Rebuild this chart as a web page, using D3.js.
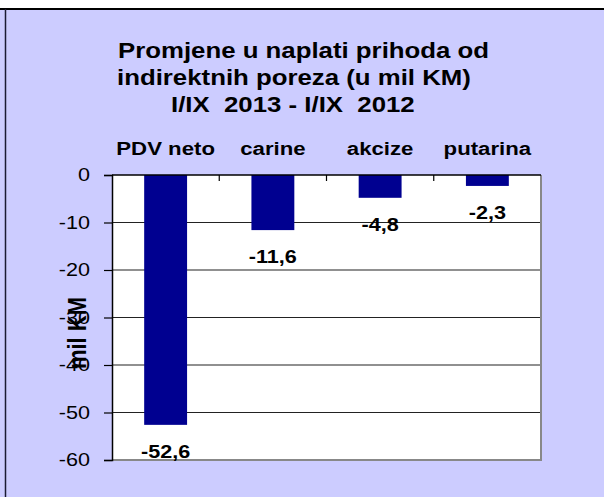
<!DOCTYPE html>
<html>
<head>
<meta charset="utf-8">
<script src="https://cdn.jsdelivr.net/npm/d3@7"></script>
<style>
  body { margin: 0; background: #fff; }
  svg { display: block; font-family: "Liberation Sans", Arial, sans-serif; }
</style>
</head>
<body>
<svg id="chart"></svg>
<script>
// Chart data
const categories = ["PDV neto", "carine", "akcize", "putarina"];
const values = [-52.6, -11.6, -4.8, -2.3];
const yTicks = [0, -10, -20, -30, -40, -50, -60];
const titleLines = ["Promjene u naplati prihoda od", "indirektnih poreza (u mil KM)", "I/IX  2013 - I/IX  2012"];
const yTitle = "mil KM";

const width = 604;
const height = 497;
const SX = 1.2; // the picture is a little stretched horizontally

const svg = d3.select("#chart")
    .attr("width", width)
    .attr("height", height);

// Frame background
svg.append("rect")
    .attr("x", 0).attr("y", 9)
    .attr("width", width).attr("height", height - 9)
    .attr("fill", "#ccccff");
svg.append("line")
    .attr("x1", 0).attr("x2", width)
    .attr("y1", 9).attr("y2", 9)
    .attr("stroke", "#000").attr("stroke-width", 2);
svg.append("line")
    .attr("x1", 5.5).attr("x2", 5.5)
    .attr("y1", 9).attr("y2", height)
    .attr("stroke", "#1a1a33").attr("stroke-width", 1.5);

// Plot area
const plot = { left: 112, right: 541, top: 175, bottom: 460 };

const x = d3.scaleBand()
    .domain(categories)
    .range([plot.left, plot.right])
    .paddingInner(0.6)
    .paddingOuter(0.3);

const y = d3.scaleLinear()
    .domain([-60, 0])
    .range([plot.bottom, plot.top]);

// helper for stretched text
function addText(g, tx, ty, str, size, weight, anchor) {
    return g.append("text")
        .attr("transform", `translate(${tx},${ty}) scale(${SX},1)`)
        .attr("text-anchor", anchor || "start")
        .attr("font-size", size)
        .attr("font-weight", weight || "normal")
        .attr("fill", "#000")
        .style("white-space", "pre")
        .text(str);
}

// Title
const titleX = [118, 117, 171];
titleLines.forEach((t, i) => {
    addText(svg, titleX[i], 58 + i * 27, t, 21.5, "bold");
});

// white plot background
svg.append("rect")
    .attr("x", plot.left).attr("y", plot.top)
    .attr("width", plot.right - plot.left)
    .attr("height", plot.bottom - plot.top)
    .attr("fill", "#fff");

// gridlines
svg.append("g")
    .selectAll("line")
    .data(yTicks.filter(d => d !== 0 && d !== -60))
    .join("line")
    .attr("x1", plot.left).attr("x2", plot.right)
    .attr("y1", d => y(d)).attr("y2", d => y(d))
    .attr("stroke", "#222").attr("stroke-width", 1.2);

// right and bottom border (gray)
svg.append("path")
    .attr("d", `M${plot.right},${plot.top}V${plot.bottom}H${plot.left}`)
    .attr("fill", "none")
    .attr("stroke", "#888")
    .attr("stroke-width", 2);

// bars
svg.append("g")
    .selectAll("rect")
    .data(values)
    .join("rect")
    .attr("x", (d, i) => x(categories[i]))
    .attr("y", y(0))
    .attr("width", x.bandwidth())
    .attr("height", d => y(d) - y(0))
    .attr("fill", "#000090");

// y axis
const yAxis = svg.append("g")
    .attr("transform", `translate(${plot.left},0)`)
    .call(d3.axisLeft(y).tickValues(yTicks).tickSize(8).tickFormat(d => String(d)));
yAxis.select(".domain").attr("stroke", "#000").attr("stroke-width", 1.5);
yAxis.selectAll(".tick line").attr("stroke", "#000").attr("stroke-width", 1.2);
yAxis.selectAll(".tick text")
    .attr("x", -22 / SX)
    .attr("transform", `scale(${SX},1)`)
    .attr("font-size", 18)
    .attr("font-family", "Liberation Sans, Arial, sans-serif")
    .attr("fill", "#000");

// top x axis at zero, ticks between categories
const step = x.step();
const bounds = categories.slice(1).map(c => x(c) - step * x.paddingInner() / 2);
svg.append("line")
    .attr("x1", plot.left).attr("x2", plot.right)
    .attr("y1", y(0)).attr("y2", y(0))
    .attr("stroke", "#000").attr("stroke-width", 1.5);
svg.append("g")
    .selectAll("line")
    .data(bounds)
    .join("line")
    .attr("x1", d => d).attr("x2", d => d)
    .attr("y1", y(0)).attr("y2", y(0) + 6)
    .attr("stroke", "#000").attr("stroke-width", 1.2);

// category labels
categories.forEach(c => {
    addText(svg, x(c) + x.bandwidth() / 2, 155, c, 18.5, "bold", "middle");
});

// data labels
const fmt = d3.formatLocale({ decimal: ",", thousands: ".", grouping: [3], currency: ["", ""], minus: "-" }).format(".1f");
values.forEach((v, i) => {
    addText(svg, x(categories[i]) + x.bandwidth() / 2, y(v) + 33, fmt(v), 18, "bold", "middle");
});

// y axis title
svg.append("text")
    .attr("transform", `translate(86,333) scale(${SX},1) rotate(-90)`)
    .attr("text-anchor", "middle")
    .attr("font-size", 22)
    .attr("font-weight", "bold")
    .attr("fill", "#000")
    .text(yTitle);
</script>
</body>
</html>
